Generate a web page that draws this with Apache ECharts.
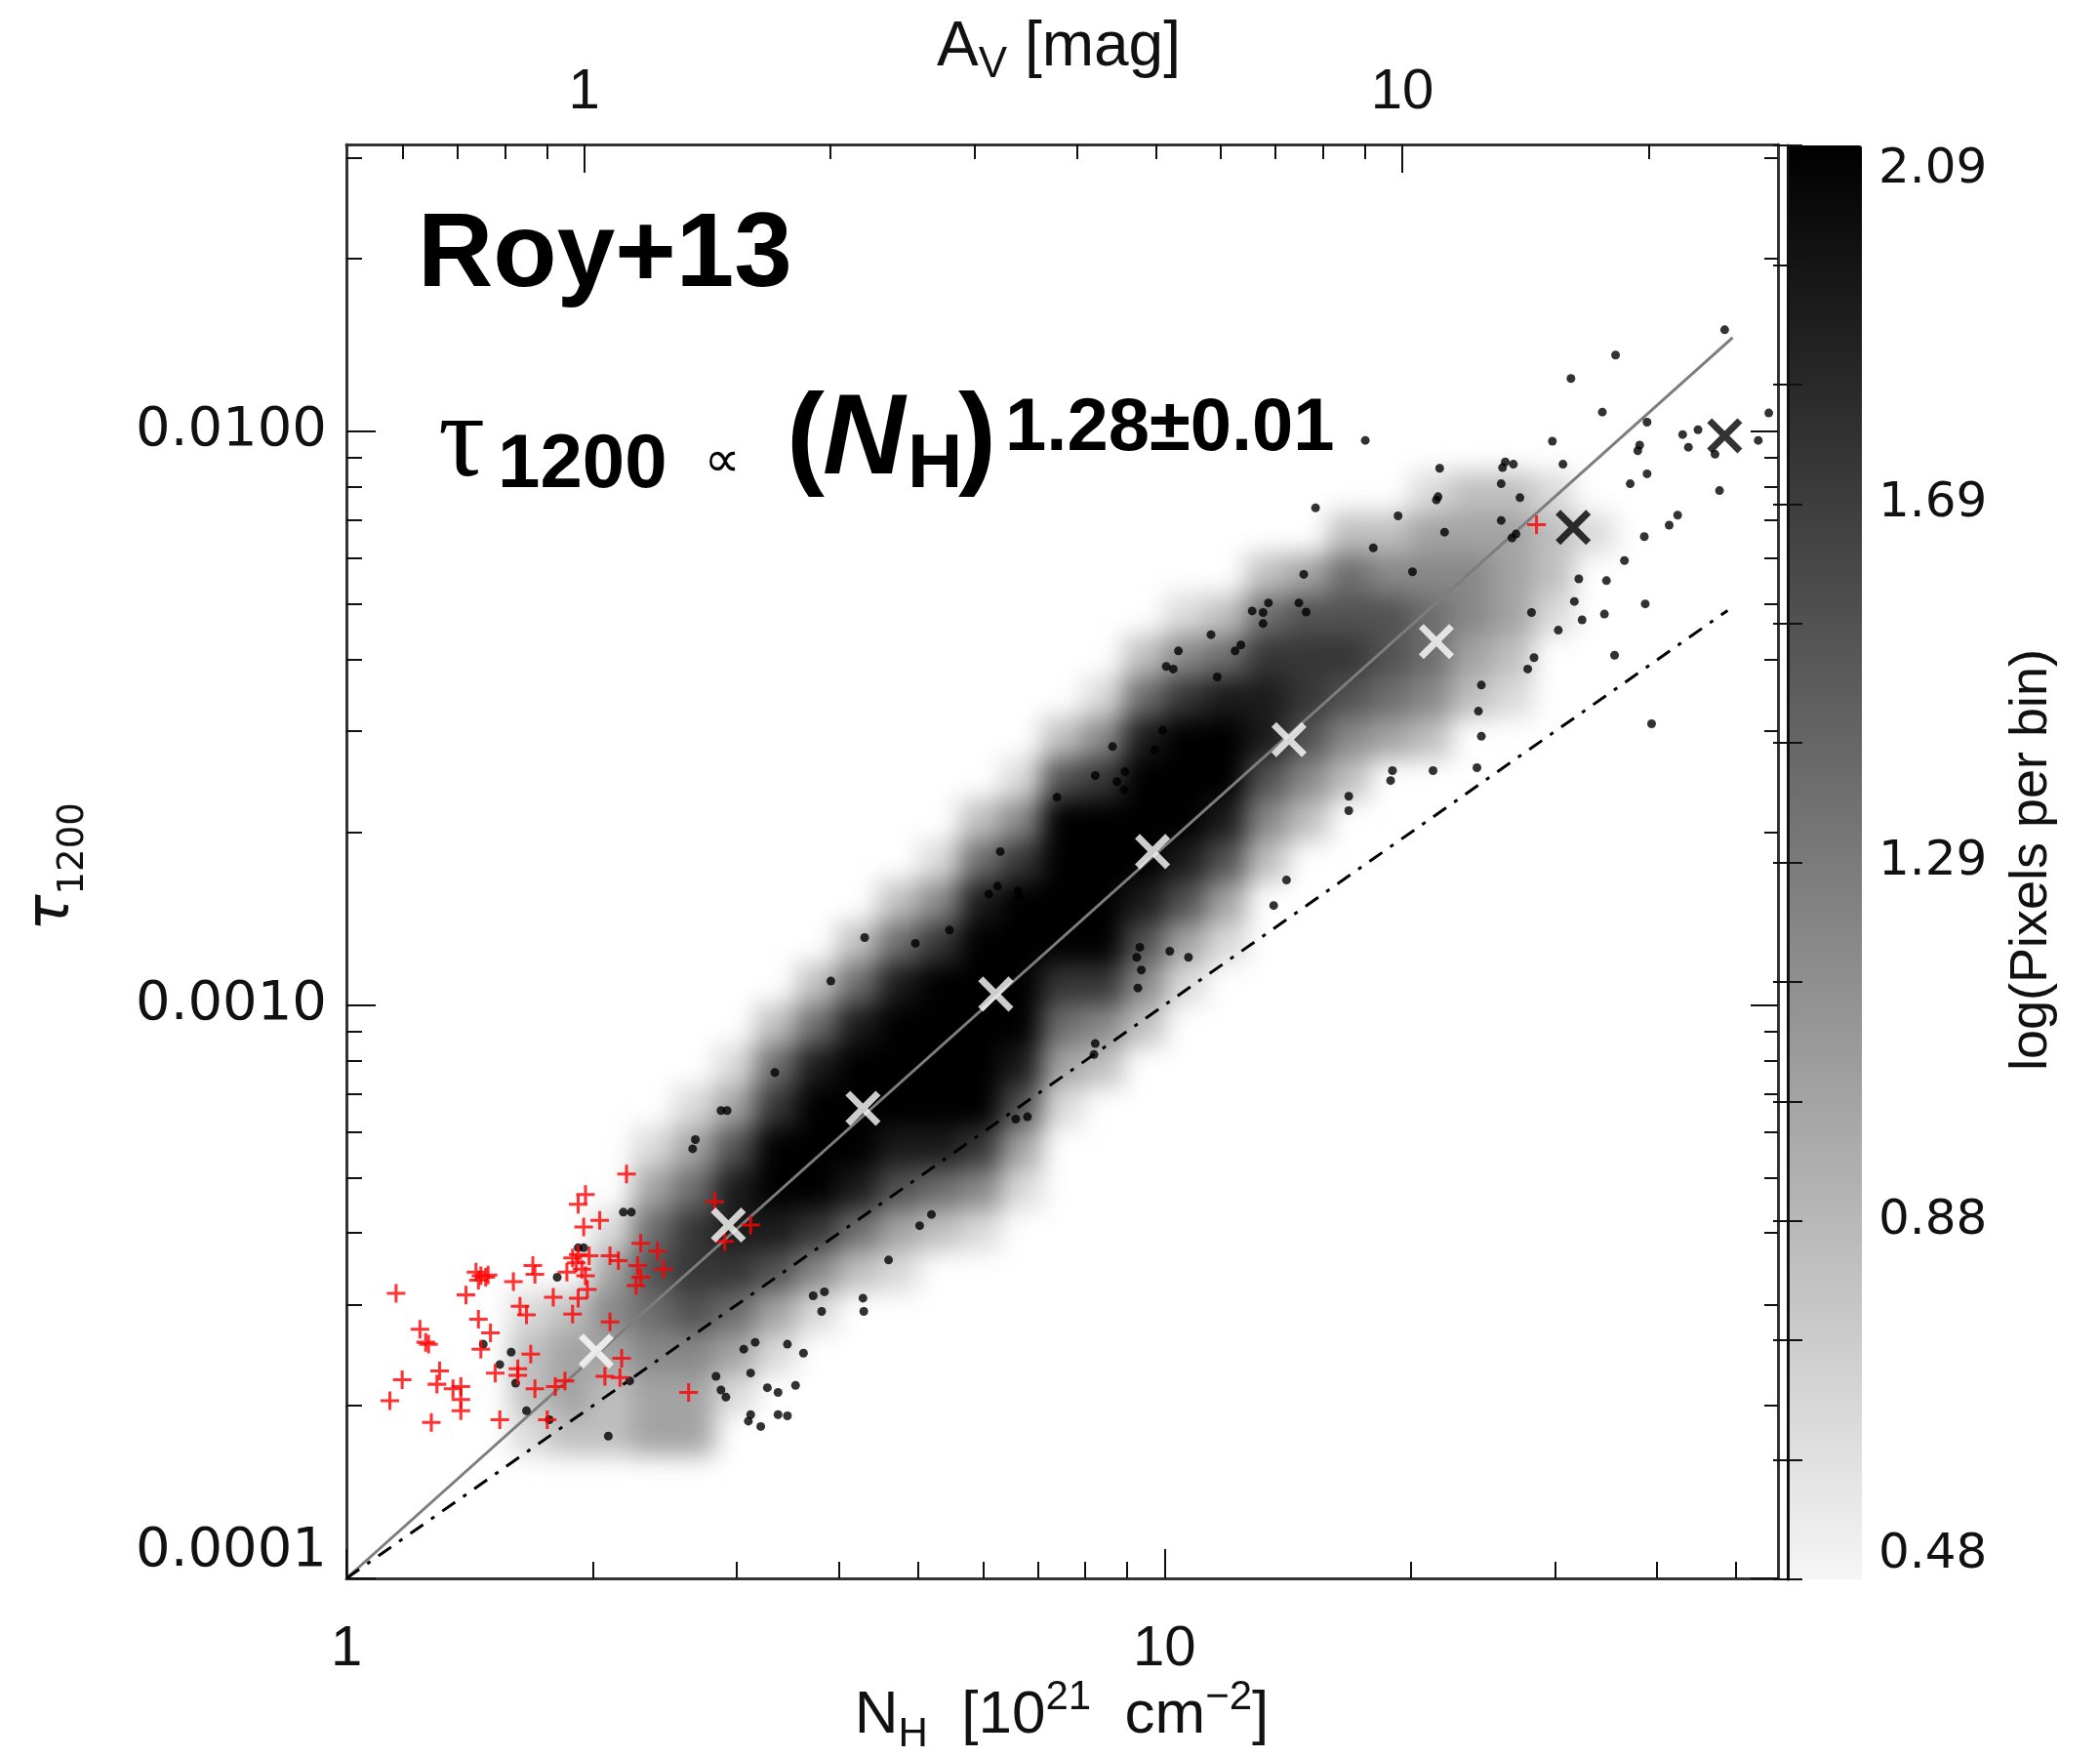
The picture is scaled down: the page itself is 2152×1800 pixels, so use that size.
<!DOCTYPE html>
<html>
<head>
<meta charset="utf-8">
<title>tau1200 vs NH (Roy+13)</title>
<script src="https://cdn.jsdelivr.net/npm/echarts@6/dist/echarts.min.js"></script>
<style>
  html, body { margin: 0; padding: 0; background: #fff; }
  .layer { position: absolute; left: 0; top: 0; width: 2152px; height: 1800px; }
  /* the density image is shown smoothed, like the interpolated original */
  #density { filter: blur(13px); }
</style>
</head>
<body>
<div id="density" class="layer"></div>
<div id="chart" class="layer"></div>
<script>
// ---- axis ranges and ticks ----
const nhRange = [0.99999, 56.234];        // N_H [1e21 cm^-2]
const tauRange = [0.99999e-4, 0.031623];  // tau_1200
const nhPerAv = 1.953;                    // N_H / A_V
const nhMajor = [1, 10];
const nhMinor = [2, 3, 4, 5, 6, 7, 8, 9, 20, 30, 40, 50];
const avMajor = [1, 10];
const avMinor = [0.6, 0.7, 0.8, 0.9, 2, 3, 4, 5, 6, 7, 8, 9, 20];
const tauMajor = [1e-4, 1e-3, 1e-2];
const tauMinor = [2e-4, 3e-4, 4e-4, 5e-4, 6e-4, 7e-4, 8e-4, 9e-4,
  2e-3, 3e-3, 4e-3, 5e-3, 6e-3, 7e-3, 8e-3, 9e-3, 2e-2, 3e-2];
const cbarRange = [0.48, 2.09];
const cbarLabels = ['0.48', '0.88', '1.29', '1.69', '2.09'];

// ---- density map, log(pixels per bin), gray level 1..9 per cell, row 0 = top ----
const densityRows = [
  '...................................',
  '...................................',
  '...................................',
  '...................................',
  '...................................',
  '...................................',
  '...................................',
  '...................................',
  '..........................1221.....',
  '........................2233321....',
  '......................23544432.....',
  '....................1256665431.....',
  '...................2457776532......',
  '..................15788765421......',
  '.................2489986432........',
  '................167999642..........',
  '...............249999842...........',
  '..............157999862............',
  '.............248999863.............',
  '............2579999631.............',
  '...........2589997741..............',
  '..........2589999542...............',
  '.........1589999832................',
  '........1379999961.................',
  '.......1369998873..................',
  '.......3589986541..................',
  '......1578875321...................',
  '......36776421.....................',
  '....12456531.......................',
  '....2334431........................',
  '....232331.........................',
  '....12233..........................',
  '...................................',
  '...................................',
  '...................................'
];

// ---- points [N_H, tau_1200] ----
const blackDots = [
  [6.25, 0.00161], [6.10, 0.00156], [6.62, 0.00158], [6.64, 0.00154], [5.46, 0.00135],
  [4.96, 0.00128], [4.30, 0.00131], [3.91, 0.00110], [3.34, 0.000762], [2.87, 0.000654],
  [2.92, 0.000654], [2.67, 0.000582], [2.65, 0.000561], [2.18, 0.000435], [2.23, 0.000435],
  [1.95, 0.000377], [1.92, 0.000377], [1.81, 0.000335], [1.47, 0.000256], [1.59, 0.000248],
  [1.61, 0.000219], [1.66, 0.000196], [2.09, 0.000177], [2.22, 0.000221], [5.19, 0.000431],
  [5.02, 0.000412], [4.60, 0.000359], [3.72, 0.000311], [3.84, 0.000316], [3.81, 0.000292],
  [4.28, 0.000308], [4.29, 0.000292], [3.06, 0.000251], [3.16, 0.000258], [3.46, 0.000256],
  [3.62, 0.000247], [2.83, 0.000225], [3.12, 0.000228], [2.87, 0.000213], [2.91, 0.000207],
  [3.27, 0.000215], [3.37, 0.000211], [3.54, 0.000217], [3.12, 0.000193], [3.10, 0.000188],
  [3.21, 0.000184], [3.37, 0.000193], [3.46, 0.000192], [6.58, 0.000632], [6.80, 0.000638],
  [1.54, 0.000236], [1.77, 0.000189],
  [48.4, 0.01503], [35.6, 0.01358], [31.4, 0.01236], [34.3, 0.01080], [54.8, 0.01076],
  [53.2, 0.00964], [38.9, 0.01037], [17.6, 0.00964], [29.8, 0.00961], [38.1, 0.00946],
  [37.9, 0.00925], [43.0, 0.00987], [44.9, 0.01006], [43.7, 0.00938], [47.1, 0.00912],
  [30.7, 0.00876], [26.1, 0.00884], [26.7, 0.00876], [25.9, 0.00864], [21.7, 0.00862],
  [38.9, 0.00843], [25.8, 0.00810], [37.1, 0.00810], [47.7, 0.00788], [21.6, 0.00769],
  [21.5, 0.00759], [27.2, 0.00766], [15.3, 0.00735], [19.3, 0.00712], [25.8, 0.00699],
  [22.0, 0.00667], [42.4, 0.00714], [41.4, 0.00686], [26.6, 0.00652], [26.9, 0.00662],
  [38.6, 0.00655], [18.0, 0.00626], [36.5, 0.00595], [20.1, 0.00569], [14.8, 0.00563],
  [32.1, 0.00553], [34.7, 0.00549], [13.4, 0.00502], [12.8, 0.00486], [13.2, 0.00483],
  [13.2, 0.00462], [14.6, 0.00502], [14.9, 0.00484], [31.7, 0.00505], [38.7, 0.00500],
  [28.1, 0.00483], [34.5, 0.00480], [32.4, 0.00469], [30.3, 0.00450], [11.4, 0.00442],
  [12.4, 0.00424], [12.2, 0.00414], [10.4, 0.00414], [10.05, 0.00389], [10.25, 0.00385],
  [28.3, 0.00403], [27.8, 0.00385], [35.5, 0.00407], [11.6, 0.00373], [24.4, 0.00361],
  [24.2, 0.00325], [9.95, 0.00301], [8.64, 0.00282], [9.73, 0.00278], [39.4, 0.00309],
  [24.4, 0.00294], [8.23, 0.00251], [8.95, 0.00255], [8.75, 0.00245], [8.93, 0.00237],
  [19.0, 0.00256], [18.9, 0.00246], [21.3, 0.00256], [24.1, 0.00259], [16.8, 0.00231],
  [16.8, 0.00218], [7.39, 0.00230], [6.30, 0.00185],
  [14.1, 0.00165], [13.6, 0.00149], [9.33, 0.00126], [9.25, 0.00121], [10.15, 0.00124],
  [10.7, 0.00121], [9.37, 0.00115], [9.28, 0.00107], [8.23, 0.000856], [8.20, 0.000819]
];

const redPlus = [
  [2.20, 0.000507], [1.92, 0.000449], [1.96, 0.000467], [2.04, 0.000421], [1.95, 0.000410],
  [2.29, 0.000384], [2.40, 0.000372], [1.89, 0.000362], [1.92, 0.000367], [1.98, 0.000365],
  [1.91, 0.000355], [2.10, 0.000365], [2.15, 0.000358], [2.27, 0.000351], [2.29, 0.000335],
  [2.26, 0.000324], [2.44, 0.000346], [1.86, 0.000342], [1.94, 0.000346], [1.96, 0.000337],
  [1.69, 0.000351], [1.70, 0.000339], [1.60, 0.000329], [1.44, 0.000342], [1.46, 0.000337],
  [1.48, 0.000335], [1.45, 0.000331], [1.49, 0.000338], [1.15, 0.000314], [1.40, 0.000312],
  [1.79, 0.000309], [1.97, 0.000319], [1.92, 0.000308], [1.63, 0.000298], [1.66, 0.000288],
  [1.89, 0.000289], [1.45, 0.000283], [1.50, 0.000268], [1.23, 0.000272], [1.25, 0.000258],
  [1.26, 0.000256], [1.46, 0.000251], [2.10, 0.000280], [1.68, 0.000246], [1.62, 0.000232],
  [1.62, 0.000226], [1.52, 0.000228], [1.30, 0.000230], [1.17, 0.000222], [1.29, 0.000218],
  [1.38, 0.000216], [1.35, 0.000214], [1.38, 0.000205], [1.70, 0.000214], [1.80, 0.000216],
  [1.85, 0.000221], [2.07, 0.000225], [2.16, 0.000224], [2.17, 0.000242], [2.62, 0.000211],
  [1.13, 0.000204], [1.38, 0.000196], [1.27, 0.000187], [1.54, 0.000189], [1.76, 0.000189],
  [2.82, 0.000454], [2.90, 0.000387], [3.12, 0.000413], [28.5, 0.00687]
];

const binMeans = [[2.02, 2.49e-4], [2.93, 4.13e-4], [4.28, 6.60e-4], [6.22, 1.044e-3],
  [9.67, 1.85e-3], [14.2, 2.90e-3], [21.5, 4.30e-3]];
const binMeansHigh = [[31.6, 6.80e-3], [48.4, 9.82e-3]];
const fitLine = [[1, 1e-4], [49.5, 0.01456]];
const ratioLine = [[1, 1e-4], [48.8, 0.00487]];

// ---- build heatmap cells ----
const heatData = [];
densityRows.forEach((row, r) => {
  for (let c = 0; c < row.length; c++) {
    const ch = row[c];
    if (ch !== '.') {
      heatData.push([c, r, cbarRange[0] + (cbarRange[1] - cbarRange[0]) * Number(ch) / 9]);
    }
  }
});
const colCats = Array.from({ length: densityRows[0].length }, (_, i) => i);
const rowCats = Array.from({ length: densityRows.length }, (_, i) => i);

const plot = { left: 355, top: 148, width: 1467, height: 1469 };
const grayRamp = ['#f5f5f5', '#000000'];
const frame = { color: '#333', width: 3 };
const tickStyle = { color: '#111', width: 2 };
const plusPath = 'path://M4.2,0H5.8V10H4.2ZM0,4.2H10V5.8H0Z';
const crossPath = 'path://M4.2,0H5.8V10H4.2ZM0,4.2H10V5.8H0Z';

// ---- background layer: density map ----
const densityChart = echarts.init(document.getElementById('density'));
densityChart.setOption({
  animation: false,
  grid: Object.assign({}, plot),
  xAxis: { type: 'category', data: colCats, show: false },
  yAxis: { type: 'category', data: rowCats, inverse: true, show: false },
  visualMap: {
    type: 'continuous', show: false, seriesIndex: 0,
    min: cbarRange[0], max: cbarRange[1],
    inRange: { color: grayRamp }
  },
  series: [{
    type: 'heatmap', data: heatData, progressive: 0,
    emphasis: { disabled: true }, silent: true
  }]
});

// ---- foreground layer: axes, marks, colour bar, texts ----
function logAxis(o) {
  return {
    gridIndex: 0, type: 'log', logBase: 10, min: o.min, max: o.max, position: o.position,
    axisLine: { show: !!o.line, lineStyle: frame },
    axisTick: { show: true, inside: true, length: o.tickLen, customValues: o.ticks, lineStyle: tickStyle },
    axisLabel: o.labels ? Object.assign({ show: true, customValues: o.ticks, color: '#111' }, o.labels) : { show: false },
    splitLine: { show: false },
    minorTick: { show: false }
  };
}

const chart = echarts.init(document.getElementById('chart'));

chart.setOption({
  animation: false,
  backgroundColor: 'transparent',
  grid: [
    Object.assign({}, plot),
    { left: 1832, top: 149, width: 76, height: 1469 }
  ],
  xAxis: [
    logAxis({ min: nhRange[0], max: nhRange[1], position: 'bottom', line: true, tickLen: 30, ticks: nhMajor,
      labels: { margin: 44, fontFamily: 'Liberation Sans', fontSize: 58, formatter: v => String(Math.round(v)) } }),
    logAxis({ min: nhRange[0], max: nhRange[1], position: 'bottom', tickLen: 17, ticks: nhMinor }),
    logAxis({ min: nhRange[0] / nhPerAv, max: nhRange[1] / nhPerAv, position: 'top', line: true, tickLen: 29, ticks: avMajor,
      labels: { margin: 24, fontFamily: 'Liberation Sans', fontSize: 58, formatter: v => String(Math.round(v)) } }),
    logAxis({ min: nhRange[0] / nhPerAv, max: nhRange[1] / nhPerAv, position: 'top', tickLen: 15, ticks: avMinor }),
    { gridIndex: 1, type: 'value', min: 0, max: 1, show: false }
  ],
  yAxis: [
    logAxis({ min: tauRange[0], max: tauRange[1], position: 'left', line: true, tickLen: 30, ticks: tauMajor,
      labels: { margin: 20, fontFamily: 'DejaVu Sans', fontSize: 56, formatter: v => v.toFixed(4),
        verticalAlignMinLabel: 'bottom' } }),
    logAxis({ min: tauRange[0], max: tauRange[1], position: 'left', tickLen: 16, ticks: tauMinor }),
    logAxis({ min: tauRange[0], max: tauRange[1], position: 'right', line: true, tickLen: 28, ticks: tauMajor }),
    logAxis({ min: tauRange[0], max: tauRange[1], position: 'right', tickLen: 14, ticks: tauMinor }),
    {
      gridIndex: 1, type: 'value', min: 0, max: cbarLabels.length - 1, interval: 1, position: 'right', z: 10,
      axisLine: { show: true, lineStyle: { color: '#111', width: 2 } },
      axisTick: { show: true, inside: true, length: 15, lineStyle: tickStyle },
      minorTick: { show: true, splitNumber: 3, length: 15, lineStyle: tickStyle },
      splitLine: { show: false },
      axisLabel: {
        show: true, margin: 17, fontFamily: 'DejaVu Sans', fontSize: 50, color: '#111',
        formatter: v => cbarLabels[Math.round(v)],
        verticalAlignMinLabel: 'bottom', verticalAlignMaxLabel: 'top'
      }
    },
    {
      gridIndex: 1, type: 'value', min: 0, max: cbarLabels.length - 1, interval: 1, position: 'left', z: 10,
      axisLine: { show: true, lineStyle: { color: '#111', width: 3 } },
      axisTick: { show: true, inside: true, length: 15, lineStyle: tickStyle },
      minorTick: { show: true, splitNumber: 3, length: 15, lineStyle: tickStyle },
      splitLine: { show: false },
      axisLabel: { show: false }
    }
  ],
  // colour bar of the density map
  visualMap: {
    type: 'continuous',
    seriesIndex: 0,
    min: cbarRange[0],
    max: cbarRange[1],
    orient: 'vertical',
    left: 1832,
    top: 149,
    itemWidth: 76,
    itemHeight: 1469,
    padding: 0,
    calculable: false,
    hoverLink: false,
    text: null,
    inRange: { color: grayRamp },
    z: 2
  },
  series: [
    {
      // placeholder the colour bar is attached to (the map itself is on the layer below)
      type: 'scatter', xAxisIndex: 0, yAxisIndex: 0, data: [], silent: true
    },
    {
      type: 'line', xAxisIndex: 0, yAxisIndex: 0, data: fitLine, symbol: 'none', z: 3, silent: true,
      lineStyle: { color: '#7d7d7d', width: 3 }
    },
    {
      type: 'line', xAxisIndex: 0, yAxisIndex: 0, data: ratioLine, symbol: 'none', z: 3, silent: true,
      lineStyle: { color: '#000', width: 3, type: [16, 10, 4, 10] }
    },
    {
      type: 'scatter', xAxisIndex: 0, yAxisIndex: 0, data: blackDots, symbol: 'circle', symbolSize: 9,
      itemStyle: { color: '#000' }, z: 4, silent: true
    },
    {
      type: 'scatter', xAxisIndex: 0, yAxisIndex: 0, data: redPlus, symbol: plusPath, symbolSize: 19,
      itemStyle: { color: '#ff0000' }, z: 5, silent: true
    },
    {
      type: 'scatter', xAxisIndex: 0, yAxisIndex: 0, data: binMeans, symbol: crossPath, symbolSize: 44,
      symbolRotate: 45, itemStyle: { color: '#ffffff' }, z: 6, silent: true
    },
    {
      type: 'scatter', xAxisIndex: 0, yAxisIndex: 0, data: binMeansHigh, symbol: crossPath, symbolSize: 44,
      symbolRotate: 45, itemStyle: { color: '#000000' }, z: 6, silent: true
    }
  ],
  graphic: [
    { type: 'text', x: 428, y: 263, z: 20,
      style: { text: 'Roy+13', fontFamily: 'Liberation Sans', fontWeight: 'bold', fontSize: 107, fill: '#000', align: 'left', verticalAlign: 'middle' } },
    { type: 'text', x: 449, y: 455, z: 20,
      style: { text: 'τ', fontFamily: 'Liberation Serif', fontSize: 120, fill: '#000', align: 'left', verticalAlign: 'middle' } },
    { type: 'text', x: 510, y: 477, z: 20,
      style: { text: '1200', fontFamily: 'Liberation Sans', fontWeight: 'bold', fontSize: 78, fill: '#000', align: 'left', verticalAlign: 'middle' } },
    { type: 'text', x: 740, y: 474, z: 20,
      style: { text: '∝', fontFamily: 'DejaVu Sans', fontSize: 52, fill: '#000', align: 'center', verticalAlign: 'middle' } },
    { type: 'text', x: 806, y: 453, z: 20,
      style: { text: '(', fontFamily: 'Liberation Sans', fontWeight: 'bold', fontSize: 117, fill: '#000', align: 'left', verticalAlign: 'middle' } },
    { type: 'text', x: 843, y: 453, z: 20,
      style: { text: 'N', fontFamily: 'Liberation Sans', fontWeight: 'bold', fontStyle: 'italic', fontSize: 117, fill: '#000', align: 'left', verticalAlign: 'middle' } },
    { type: 'text', x: 930, y: 477, z: 20,
      style: { text: 'H', fontFamily: 'Liberation Sans', fontWeight: 'bold', fontSize: 78, fill: '#000', align: 'left', verticalAlign: 'middle' } },
    { type: 'text', x: 982, y: 453, z: 20,
      style: { text: ')', fontFamily: 'Liberation Sans', fontWeight: 'bold', fontSize: 117, fill: '#000', align: 'left', verticalAlign: 'middle' } },
    { type: 'text', x: 1030, y: 440, z: 20,
      style: { text: '1.28±0.01', fontFamily: 'Liberation Sans', fontWeight: 'bold', fontSize: 76, fill: '#000', align: 'left', verticalAlign: 'middle' } },
    // bottom axis title
    { type: 'text', x: 1088, y: 1718, z: 20,
      style: {
        text: '{m|N}{s|H}{m|  [10}{p|21}{m|  cm}{p|−2}{m|]}',
        align: 'center', verticalAlign: 'top',
        rich: {
          m: { fontFamily: 'Liberation Sans', fontSize: 62, lineHeight: 80, fill: '#111' },
          s: { fontFamily: 'Liberation Sans', fontSize: 42, lineHeight: 42, verticalAlign: 'bottom', fill: '#111' },
          p: { fontFamily: 'Liberation Sans', fontSize: 42, lineHeight: 54, verticalAlign: 'top', fill: '#111' }
        }
      } },
    // top axis title
    { type: 'text', x: 1085, y: 9, z: 20,
      style: {
        text: '{m|A}{s|V}{m| [mag]}',
        align: 'center', verticalAlign: 'top',
        rich: {
          m: { fontFamily: 'Liberation Sans', fontSize: 64, lineHeight: 80, fill: '#111' },
          s: { fontFamily: 'Liberation Sans', fontSize: 44, lineHeight: 44, verticalAlign: 'bottom', fill: '#111' }
        }
      } },
    // left axis title
    { type: 'text', x: 58, y: 888, rotation: Math.PI / 2, z: 20,
      style: {
        text: '{t|τ}{s|1200}',
        align: 'center', verticalAlign: 'middle',
        rich: {
          t: { fontFamily: 'DejaVu Sans', fontStyle: 'italic', fontSize: 62, lineHeight: 71, verticalAlign: 'top', fill: '#111' },
          s: { fontFamily: 'DejaVu Sans', fontSize: 37, lineHeight: 37, verticalAlign: 'bottom', fill: '#111' }
        }
      } },
    // colour bar title
    { type: 'text', x: 2082, y: 881, rotation: Math.PI / 2, z: 20,
      style: { text: 'log(Pixels per bin)', fontFamily: 'Liberation Sans', fontSize: 54, fill: '#111', align: 'center', verticalAlign: 'middle' } }
  ]
});
</script>
</body>
</html>
